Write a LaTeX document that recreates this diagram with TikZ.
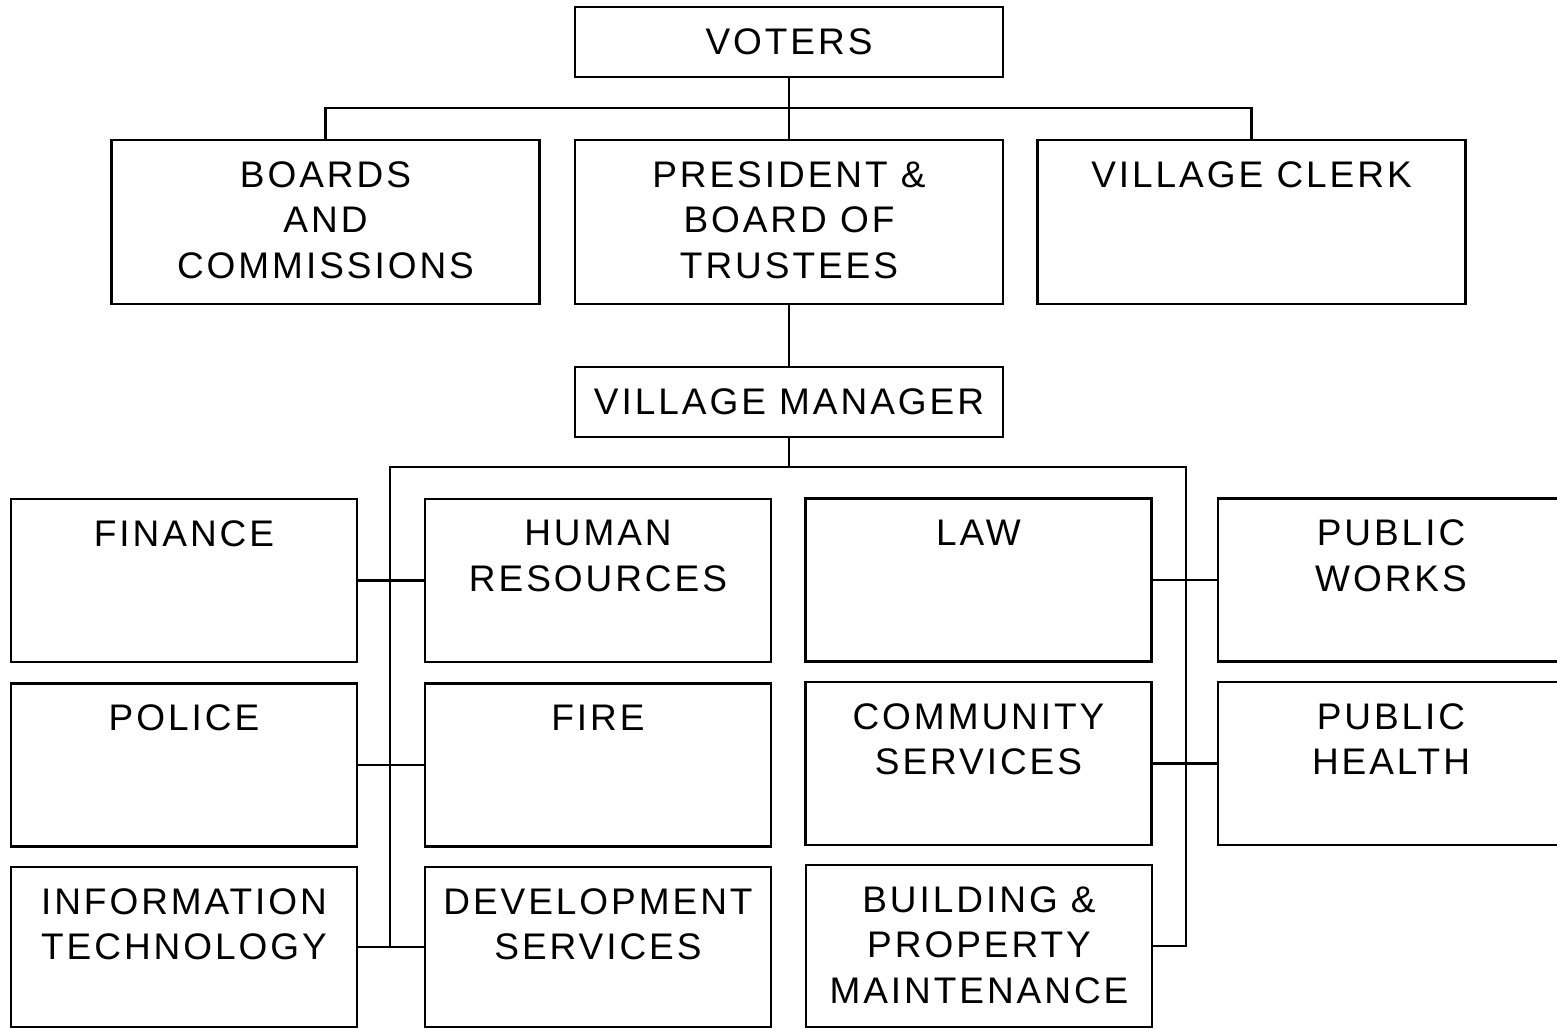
\documentclass[tikz,border=0pt]{standalone}
\usepackage{fontspec}
\setmainfont{Liberation Sans}[LetterSpace=8]
\begin{document}
\begin{tikzpicture}[x=1pt, y=-1pt, line width=2.3pt,
    every node/.style={font=\fontsize{37}{45.5}\selectfont},
    unit/.style={draw, minimum width=428pt, minimum height=70pt},
    office/.style={draw, minimum width=428pt, minimum height=164pt},
    dept/.style={draw, minimum width=346pt, minimum height=163pt},
    heading/.style={anchor=north, inner sep=0pt, align=center, yshift=-21.5pt}]
  \useasboundingbox (0,0) rectangle (1557,1028);
  \clip (0,0) rectangle (1557,1028);
  % elected offices
  \node[unit] (voters) at (789,42) {VOTERS};
  \node[office, label={[heading]north:{BOARDS\\AND\\COMMISSIONS}}] (boards) at (325.5,222) {};
  \node[office, label={[heading]north:{PRESIDENT \&\\BOARD OF\\TRUSTEES}}] (pres) at (789,222) {};
  \node[office, label={[heading]north:{VILLAGE CLERK}}] (clerk) at (1251.5,222) {};
  \node[unit] (mgr) at (789,402) {VILLAGE MANAGER};
  % departments
  \node[dept, label={[heading]north:{FINANCE}}] (fin) at (184,580.5) {};
  \node[dept, label={[heading]north:{HUMAN\\RESOURCES}}] (hr) at (598,580.5) {};
  \node[dept, label={[heading]north:{LAW}}] (law) at (978.5,580) {};
  \node[dept, label={[heading]north:{PUBLIC\\WORKS}}] (pw) at (1391,580) {};
  \node[dept, label={[heading]north:{POLICE}}] (police) at (184,765) {};
  \node[dept, label={[heading]north:{FIRE}}] (fire) at (598,765) {};
  \node[dept, label={[heading]north:{COMMUNITY\\SERVICES}}] (cs) at (978.5,763.5) {};
  \node[dept, label={[heading]north:{PUBLIC\\HEALTH}}] (ph) at (1391,763.5) {};
  \node[dept, minimum height=160pt, label={[heading]north:{INFORMATION\\TECHNOLOGY}}] (it) at (184,947) {};
  \node[dept, minimum height=160pt, label={[heading]north:{DEVELOPMENT\\SERVICES}}] (dev) at (598,947) {};
  \node[dept, minimum height=162pt, label={[heading]north:{BUILDING \&\\PROPERTY\\MAINTENANCE}}] (bpm) at (979,946) {};
  % connectors
  \coordinate (topbus) at (789,108);
  \coordinate (midbus) at (789,467);
  \coordinate (lspine) at (390,947);
  \coordinate (rspine) at (1186,946);
  \draw (voters.south) -- (pres.north);
  \draw (boards.north) |- (topbus) -| (clerk.north);
  \draw (pres.south) -- (mgr.north);
  \draw (mgr.south) -- (midbus);
  \draw (midbus) -| (lspine);
  \draw (midbus) -| (rspine) -- (bpm.east);
  \draw (fin.east) -- (hr.west);
  \draw (police.east) -- (fire.west);
  \draw (it.east) -- (dev.west);
  \draw (law.east) -- (pw.west);
  \draw (cs.east) -- (ph.west);
\end{tikzpicture}
\end{document}
